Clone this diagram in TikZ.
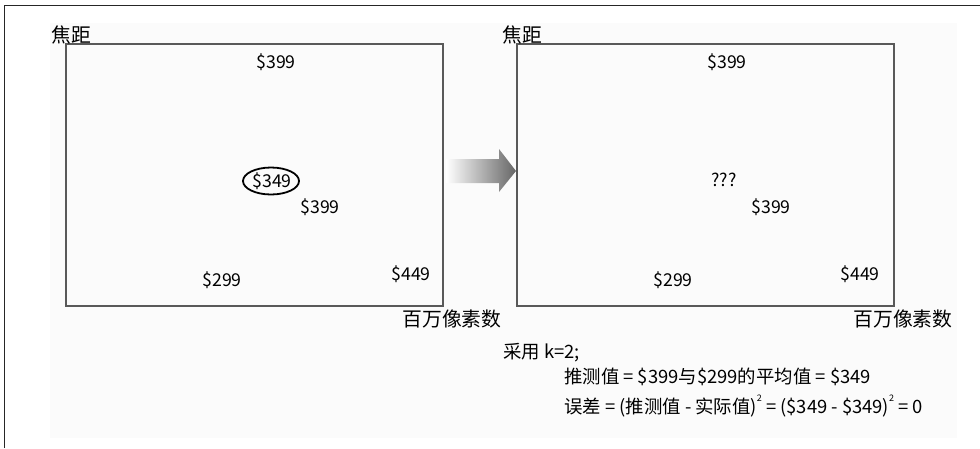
\documentclass[tikz,border=0pt]{standalone}
\usepackage{fontspec}
\setmainfont{Noto Sans CJK SC}
\newcommand{\supsq}{\raisebox{1.15ex}{\fontsize{9}{10}\selectfont 2}}
\begin{document}
\begin{tikzpicture}[x=1pt,y=-1pt,
  plotbox/.style={draw=black!65,line width=1.3pt},
  price/.style={font=\fontsize{17.7}{20}\selectfont,inner sep=0pt},
  axislbl/.style={font=\fontsize{19.8}{22}\selectfont,inner sep=0pt},
  eqline/.style={font=\fontsize{18.4}{20}\selectfont,inner sep=0pt,anchor=west}]
\useasboundingbox (0,0) rectangle (980,448);
\fill[black!1.5] (50,23) rectangle (957,438);
\draw[line width=1.4pt,black!85] (4.5,448) -- (4.5,5.5) -- (980,5.5);
% left plot
\node[plotbox,minimum width=377pt,minimum height=262pt,inner sep=0pt] (lbox) at (254.5,175) {};
\node[axislbl] (ly) at (71,35) {焦距};
\node[axislbl] (lx) at (452,319) {百万像素数};
\node[price] (l1) at (276,62) {\$399};
\node[price] (l2) at (272,181) {\$349};
\draw[line width=1.8pt] (271,181) ellipse [x radius=28pt,y radius=13.5pt];
\node[price] (l3) at (320,207) {\$399};
\node[price] (l4) at (222,280) {\$299};
\node[price] (l5) at (411,274) {\$449};
% arrow
\shade[left color=white,right color=black!60]
  (446,159) -- (499,159) -- (499,149) -- (516,171) -- (499,192) -- (499,183) -- (446,183) -- cycle;
% right plot
\node[plotbox,minimum width=377pt,minimum height=262pt,inner sep=0pt] (rbox) at (705.5,175) {};
\node[axislbl] (ry) at (522,35) {焦距};
\node[axislbl] (rx) at (903,319) {百万像素数};
\node[price] (r1) at (727,62) {\$399};
\node[price] (r2) at (724,180) {???};
\node[price] (r3) at (771,207) {\$399};
\node[price] (r4) at (673,280) {\$299};
\node[price] (r5) at (860,274) {\$449};
% text block
\node[eqline] (t1) at (503,353) {采用 k=2;};
\node[eqline] (t2) at (564,377) {推测值 = \$399与\$299的平均值 = \$349};
\node[eqline] (t3) at (564,406) {误差 = (推测值 - 实际值)\supsq{} = (\$349 - \$349)\supsq{} = 0};
\end{tikzpicture}
\end{document}
